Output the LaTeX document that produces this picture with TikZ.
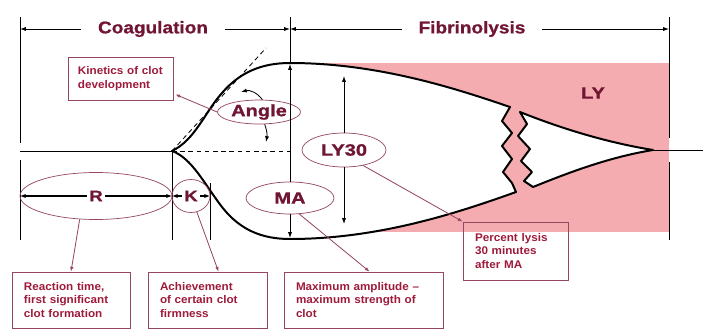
\documentclass[tikz,border=0pt]{standalone}
\usepackage{fontspec}
\setmainfont{Liberation Sans}
\newfontfamily\widefont{Liberation Sans}[FakeStretch=1.22,BoldFeatures={FakeBold=1.2}]
\newfontfamily\titlefont{Liberation Sans}[FakeStretch=1.12,BoldFeatures={FakeBold=0.8}]
\newfontfamily\boxfont{Liberation Sans}[FakeStretch=1.05,Ligatures=TeX]
\usepackage{tikz}
\definecolor{tegdark}{RGB}{112,22,52}
\definecolor{tegtext}{RGB}{158,26,58}
\definecolor{tegline}{RGB}{150,70,95}
\definecolor{tegpink}{RGB}{245,172,176}
\usetikzlibrary{arrows.meta,calc,shapes.geometric}

\begin{document}
\begin{tikzpicture}[x=0.03cm,y=-0.03cm,
	thinline/.style={line width=0.7pt},
	measure/.style={line width=0.7pt,-{Latex[length=5pt,width=3.5pt]}},
	pointer/.style={tegline,line width=0.7pt,-{Latex[length=4pt,width=3pt]}},
	curve/.style={line width=1.7pt,line join=round,fill=white},
	title/.style={text=tegdark,font=\titlefont\bfseries\fontsize{14.5}{14.5}\selectfont,inner xsep=14pt},
	lbl/.style={ellipse,draw=tegline,line width=0.6pt,inner sep=0pt,text=tegdark,font=\widefont\bfseries\fontsize{14}{14}\selectfont},
	lbltext/.style={text=tegdark,inner sep=2pt,font=\widefont\bfseries\fontsize{13}{13}\selectfont},
	infobox/.style={draw=tegline,line width=0.7pt,text=tegtext,align=left,inner xsep=0.36cm,inner ysep=0pt,font=\boxfont\bfseries\fontsize{9.5}{11.5}\selectfont}]
	
	\useasboundingbox (0,0) rectangle (703,329);
	
	\coordinate (ltop) at (20,17);
	\coordinate (mtop) at (290,17);
	\coordinate (rtop) at (669,17);
	\coordinate (apex) at (172,151);
	\coordinate (rapex) at (653,150);
	
	\fill[tegpink] (300,63) rectangle (669,232);
	
	\filldraw[curve] (apex) .. controls (195,140) and (205,112) .. (222,93)
		.. controls (240,72) and (262,63) .. (290,63)
		.. controls (380,63) and (460,90) .. (510,107)
		-- (502,121) -- (512,133) -- (502,146) -- (512,159) -- (503,172) -- (512,183) -- (516,192)
		.. controls (460,212) and (380,239) .. (290,239)
		.. controls (262,239) and (240,230) .. (222,207)
		.. controls (205,185) and (192,158) .. (apex) -- cycle;
	\filldraw[curve] (520,112) .. controls (565,130) and (610,143) .. (rapex)
		.. controls (610,157) and (570,172) .. (533,187)
		-- (524,181) -- (532,172) -- (521,161) -- (530,149) -- (518,136) -- (527,124) -- cycle;
	
	\draw[thinline] (ltop) -- (20,143);
	\draw[thinline] (20,160) -- (20,240);
	\draw[thinline] (rtop) -- (669,138);
	\draw[thinline] (669,162) -- (669,240);
	\draw[thinline] (20,151) -- (apex);
	\draw[thinline] (rapex) -- (703,150);
	\draw[thinline] (apex) -- (172,240);
	\draw[thinline] (210,183) -- (210,240);
	
	\draw[thinline,dash pattern=on 4pt off 3pt] (apex) -- (266,48);
	\draw[thinline,dash pattern=on 4pt off 3pt] (apex) -- (290,151);
	
	\node[title] (coag) at (153,29) {Coagulation};
	\node[title] (fibr) at (472,29) {Fibrinolysis};
	\draw[measure] (coag.west) -- (coag.west -| ltop);
	\draw[measure] (coag.east) -- (coag.east -| mtop);
	\draw[measure] (fibr.west) -- (fibr.west -| mtop);
	\draw[measure] (fibr.east) -- (fibr.east -| rtop);
	
	\node[lbl,minimum width=2.49cm,minimum height=0.72cm] (anglelbl) at (259,112) {Angle};
	\node[lbl,fill=white,minimum width=2.64cm,minimum height=0.96cm] (malbl) at (290,198) {MA};
	\node[lbl,fill=white,minimum width=2.52cm,minimum height=1.02cm] (ly30lbl) at (344,150) {LY30};
	\node[lbltext,font=\widefont\bfseries\fontsize{14}{14}\selectfont] (lylbl) at (593,93) {LY};
	
	\node[lbl,minimum width=4.56cm,minimum height=1.41cm] (rell) at (96,196) {};
	\node[lbltext] (rtxt) at (rell) {R};
	\node[lbl,minimum width=1.14cm,minimum height=0.99cm] (kell) at (191,196) {};
	\node[lbltext] (ktxt) at (kell) {K};
	\draw[measure,line width=1pt] (rtxt.west) -- (rell.west);
	\draw[measure,line width=1pt] (rtxt.east) -- (rell.east);
	\draw[measure,line width=1pt] (ktxt.west) -- (kell.west);
	\draw[measure,line width=1pt] (ktxt.east) -- (kell.east);
	
	\coordinate (maup) at (290,64);
	\coordinate (madn) at (290,238);
	\coordinate (lyup) at (344,76);
	\coordinate (lydn) at (344,224);
	\draw[thinline] (mtop) -- (maup);
	\draw[measure] (malbl.north) -- (maup);
	\draw[measure] (malbl.south) -- (madn);
	\draw[measure] (ly30lbl.north) -- (lyup);
	\draw[measure] (ly30lbl.south) -- (lydn);
	
	\coordinate (angup) at (241,92);
	\coordinate (angdn) at (266,142);
	\draw[measure] (anglelbl.75) to[bend right=35] (angup);
	\draw[measure] (anglelbl.-65) to[bend left=15] (angdn);
	
	\node[infobox,text width=2.55cm,minimum height=1.29cm,inner xsep=0.3cm] (kinbox) at (120.5,78.5) {Kinetics of clot\\development};
	\node[infobox,text width=2.82cm,minimum height=1.68cm] (rbox) at (71,300) {Reaction time,\\first significant\\clot formation};
	\node[infobox,text width=2.85cm,minimum height=1.68cm] (kbox) at (207.5,300) {Achievement\\of certain clot\\firmness};
	\node[infobox,text width=4.05cm,minimum height=1.68cm] (mabox) at (363.5,300) {Maximum amplitude –\\maximum strength of\\clot};
	\node[infobox,text width=2.43cm,minimum height=1.74cm] (lybox) at (515.5,251) {Percent lysis\\30 minutes\\after MA};
	
	\draw[pointer] (anglelbl.west) -- ($(kinbox.south east)+(2,-6)$);
	\draw[pointer] (rell.235) -- (rbox.north);
	\draw[pointer] (kell.290) -- ($(kbox.north)+(11,0)$);
	\draw[pointer] (malbl.300) -- ($(mabox.north)+(6,0)$);
	\draw[pointer] (ly30lbl.321) -- (lybox.north west);
	
\end{tikzpicture}
\end{document}
